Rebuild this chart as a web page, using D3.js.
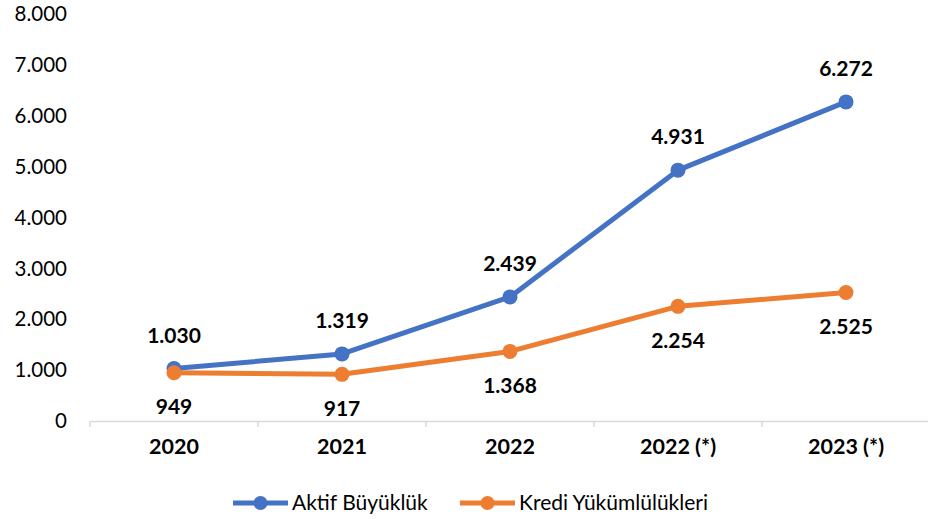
<!DOCTYPE html>
<html>
<head>
<meta charset="utf-8">
<script src="https://cdn.jsdelivr.net/npm/d3@7"></script>
<style>
  body { margin: 0; background: #fff; }
  text { font-family: Lato, "Open Sans", sans-serif; fill: #000; }
</style>
</head>
<body>
<script>
// chart data
var categories = ["2020", "2021", "2022", "2022 (*)", "2023 (*)"];
var aktifValues = [1030, 1319, 2439, 4931, 6272];
var krediValues = [949, 917, 1368, 2254, 2525];
var seriesNames = ["Aktif Büyüklük", "Kredi Yükümlülükleri"];
var yTicks = [0, 1000, 2000, 3000, 4000, 5000, 6000, 7000, 8000];

var width = 928, height = 519;
var colors = ["#4472C4", "#ED7D31"];

var svg = d3.select("body").append("svg")
    .attr("width", width)
    .attr("height", height);

var x = d3.scaleBand().domain(categories).range([90, 930]);
var y = d3.scaleLinear().domain([0, 8000]).range([421, 14]);

// turkish number format: dot as thousands separator
var fmt = function(v){
    return d3.format(",")(v).replace(/,/g, ".");
};

// y axis labels (no line)
svg.selectAll(".ytick")
    .data(yTicks)
    .enter()
    .append("text")
    .attr("class", "ytick")
    .attr("x", 67)
    .attr("y", function(d){ return y(d); })
    .attr("dy", "0.35em")
    .attr("text-anchor", "end")
    .style("font-size", "20.5px")
    .text(fmt);

// x axis
var xAxis = svg.append("g")
    .attr("transform", "translate(0," + y(0) + ")")
    .call(d3.axisBottom(x).tickSize(0).tickPadding(18));
xAxis.select(".domain").attr("stroke", "#d9d9d9").attr("stroke-width", 1.5);
xAxis.selectAll("text")
    .style("font-size", "21.5px")
    .style("font-weight", "bold")
    .attr("fill", "#000");

// tick marks between categories
var bounds = categories.map(function(c){ return x(c); }).concat([x.range()[1]]);
svg.selectAll(".xtick")
    .data(bounds)
    .enter()
    .append("line")
    .attr("x1", function(d){ return d; })
    .attr("x2", function(d){ return d; })
    .attr("y1", y(0))
    .attr("y2", y(0) + 6)
    .attr("stroke", "#d9d9d9")
    .attr("stroke-width", 1.5);

var cx = function(i){ return x(categories[i]) + x.bandwidth() / 2; };

var line = d3.line()
    .x(function(d, i){ return cx(i); })
    .y(function(d){ return y(d); });

var allSeries = [aktifValues, krediValues];

allSeries.forEach(function(vals, s){
    svg.append("path")
        .datum(vals)
        .attr("fill", "none")
        .attr("stroke", colors[s])
        .attr("stroke-width", 5)
        .attr("stroke-linejoin", "round")
        .attr("d", line);
});

allSeries.forEach(function(vals, s){
    svg.selectAll(".pt" + s)
        .data(vals)
        .enter()
        .append("circle")
        .attr("cx", function(d, i){ return cx(i); })
        .attr("cy", function(d){ return y(d); })
        .attr("r", 7.5)
        .attr("fill", colors[s]);

    // data labels: blue above, orange below
    svg.selectAll(".lbl" + s)
        .data(vals)
        .enter()
        .append("text")
        .attr("x", function(d, i){ return cx(i); })
        .attr("y", function(d){ return y(d) + (s === 0 ? -33 : 34); })
        .attr("dy", "0.35em")
        .attr("text-anchor", "middle")
        .style("font-size", "21px")
        .style("font-weight", "bold")
        .text(fmt);
});

// legend
var legendX = [233, 460];
var legend = svg.selectAll(".legend")
    .data(seriesNames)
    .enter()
    .append("g")
    .attr("transform", function(d, i){ return "translate(" + legendX[i] + ",503)"; });
legend.append("line")
    .attr("x1", 0).attr("x2", 55)
    .attr("stroke", function(d, i){ return colors[i]; })
    .attr("stroke-width", 5);
legend.append("circle")
    .attr("cx", 27.5)
    .attr("r", 7)
    .attr("fill", function(d, i){ return colors[i]; });
legend.append("text")
    .attr("x", 59)
    .attr("dy", "0.35em")
    .style("font-size", "21px")
    .text(function(d){ return d; });
</script>
</body>
</html>
